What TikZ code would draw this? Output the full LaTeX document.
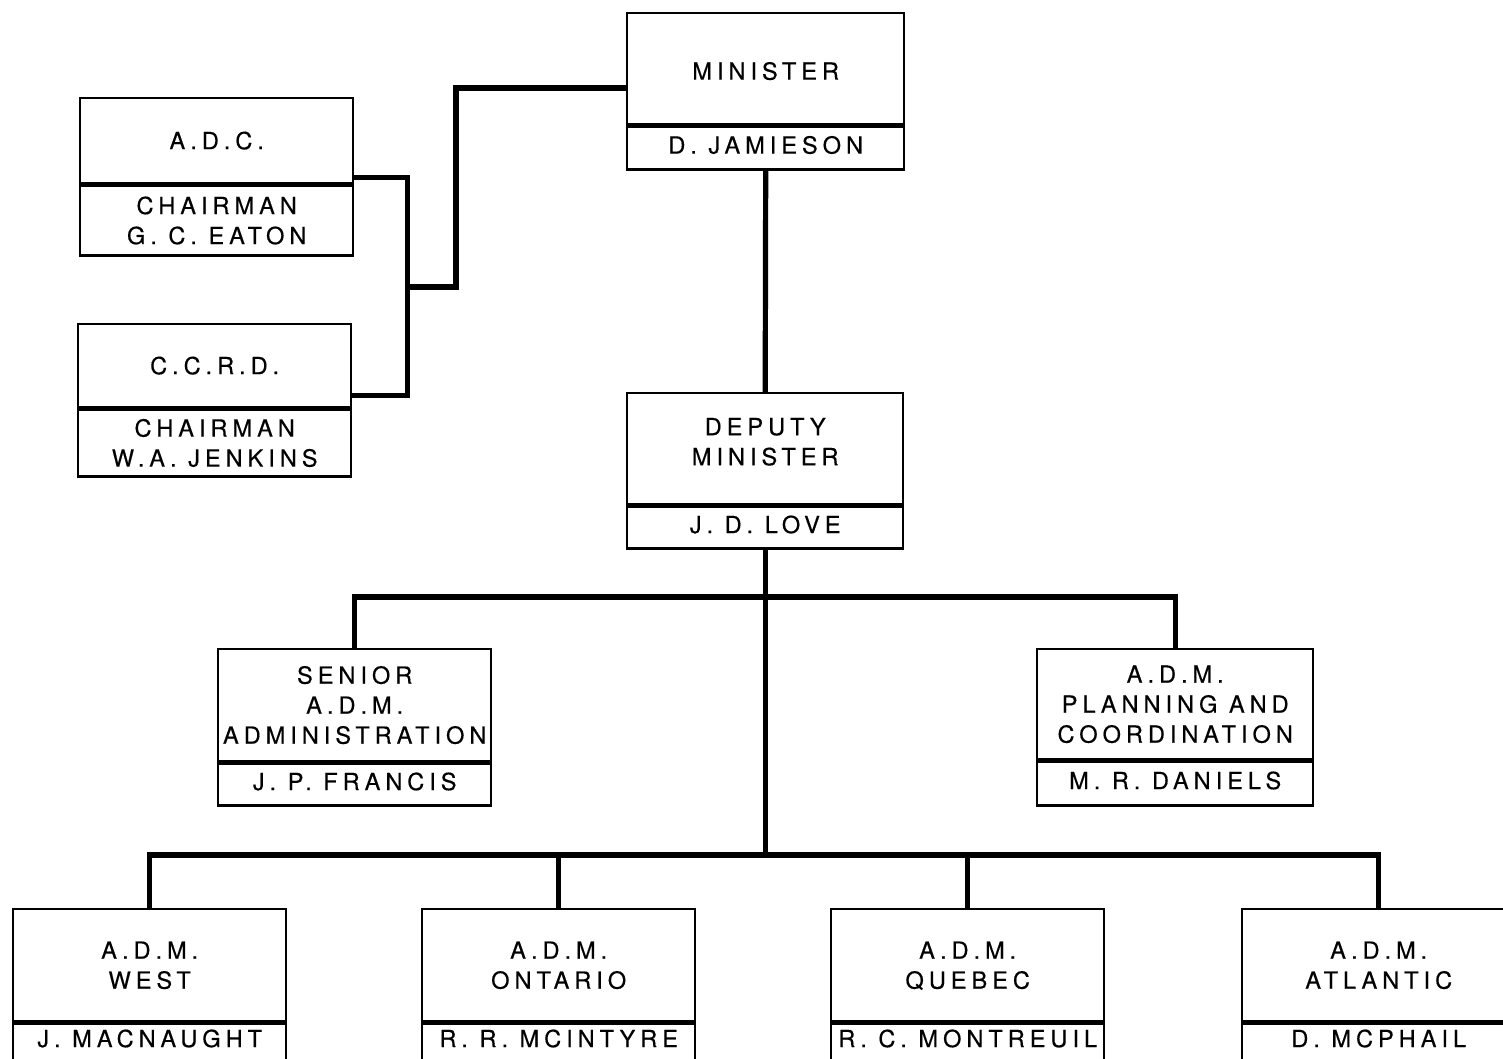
\documentclass[tikz,border=0pt]{standalone}
\usepackage{fontspec}
\newfontfamily\orgfont[LetterSpace=21,FakeBold=0.4]{TeX Gyre Heros}
\usetikzlibrary{calc}
\begin{document}
\begin{tikzpicture}[x=0.5pt,y=-0.5pt,
  boxpart/.style={draw, line width=1.2pt, inner sep=0pt, align=center, anchor=north west,
    font=\orgfont\fontsize{11.8}{15}\selectfont, text=black, text height=8.5pt, text depth=0pt},
  two/.style={text height=23.5pt},
  three/.style={text height=38.5pt},
  namepart/.style={text depth=3pt},
  wA/.style={minimum width=138.5pt},
  wB/.style={minimum width=136.5pt},
  wC/.style={minimum width=138pt},
  conn/.style={line width=2.6pt}]
\useasboundingbox (0,0) rectangle (1503,1059);
\clip (0,0) rectangle (1503,1059);
% Minister
\node[boxpart, wA, minimum height=55.5pt, text height=11pt] (minT) at (626,12) {MINISTER};
\node[boxpart, namepart, wA, minimum height=21.5pt] (minB) at (minT.south west) {D. JAMIESON};
% A.D.C.
\node[boxpart, wB, minimum height=42.5pt] (adcT) at (79,97) {A.D.C.};
\node[boxpart, two, wB, minimum height=35pt] (adcB) at (adcT.south west) {CHAIRMAN\\G. C. EATON};
% C.C.R.D.
\node[boxpart, wB, minimum height=41.5pt] (ccrdT) at (77,323) {C.C.R.D.};
\node[boxpart, two, wB, minimum height=33.5pt] (ccrdB) at (ccrdT.south west) {CHAIRMAN\\W.A. JENKINS};
% Deputy
\node[boxpart, two, wC, minimum height=55.5pt, text depth=7pt] (depT) at (626,392) {DEPUTY\\MINISTER};
\node[boxpart, namepart, wC, minimum height=21pt] (depB) at (depT.south west) {J. D. LOVE};
% Senior ADM
\node[boxpart, three, wB, minimum height=56pt] (senT) at (217,648) {SENIOR\\A.D.M.\\ADMINISTRATION};
\node[boxpart, namepart, wB, minimum height=21pt] (senB) at (senT.south west) {J. P. FRANCIS};
% Planning
\node[boxpart, three, wC, minimum height=55pt] (planT) at (1036,648) {A.D.M.\\PLANNING AND\\COORDINATION};
\node[boxpart, namepart, wC, minimum height=22pt] (planB) at (planT.south west) {M. R. DANIELS};
% Bottom row
\node[boxpart, two, wB, minimum height=56pt] (westT) at (12,908) {A.D.M.\\WEST};
\node[boxpart, wB, minimum height=27.5pt] (westB) at (westT.south west) {};
\node[boxpart, draw=none, wB, minimum height=15pt] (westN) at (westT.south west) {J. MACNAUGHT};
\node[boxpart, two, wB, minimum height=56pt] (ontT) at (421,908) {A.D.M.\\ONTARIO};
\node[boxpart, wB, minimum height=27.5pt] (ontB) at (ontT.south west) {};
\node[boxpart, draw=none, wB, minimum height=15pt] (ontN) at (ontT.south west) {R. R. MCINTYRE};
\node[boxpart, two, wB, minimum height=56pt] (queT) at (830,908) {A.D.M.\\QUEBEC};
\node[boxpart, wB, minimum height=27.5pt] (queB) at (queT.south west) {};
\node[boxpart, draw=none, wB, minimum height=15pt] (queN) at (queT.south west) {R. C. MONTREUIL};
\node[boxpart, two, wB, minimum height=56pt] (atlT) at (1241,908) {A.D.M.\\ATLANTIC};
\node[boxpart, wB, minimum height=27.5pt] (atlB) at (atlT.south west) {};
\node[boxpart, draw=none, wB, minimum height=15pt] (atlN) at (atlT.south west) {D. MCPHAIL};
% helper levels
\coordinate (m1) at (0,597);
\coordinate (m2) at (0,855);
\coordinate (jB) at (405,287);
% connectors
\draw[conn] ($(adcT.south east)+(0,-7)$) -- ++(53,0) coordinate (jA) |- ($(ccrdT.south east)+(0,-13)$);
\draw[conn] (jB) -- (456,287) |- ($(minT.north west)+(0,76)$);
\draw[conn] (minB.south) -- (depT.north);
\draw[conn] (depB.south) -- (depB.south |- m2);
\draw[conn] (senT.north) -- (senT.north |- m1) -- (planT.north |- m1) -- (planT.north);
\draw[conn] (westT.north) -- (westT.north |- m2) -- (atlT.north |- m2) -- (atlT.north);
\draw[conn] (ontT.north) -- (ontT.north |- m2);
\draw[conn] (queT.north) -- (queT.north |- m2);
\end{tikzpicture}
\end{document}
